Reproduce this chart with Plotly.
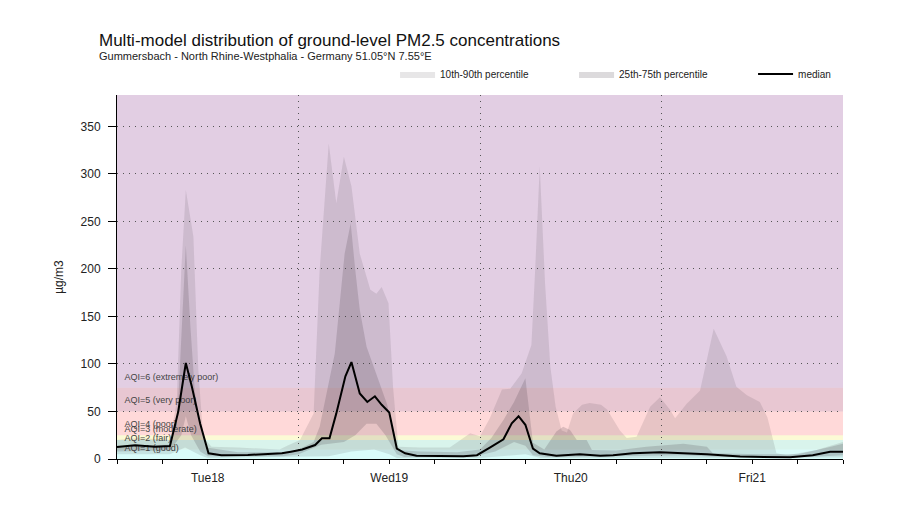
import plotly.graph_objects as go

# hours since Tue 18 00 UTC, values in µg/m3
median_h = [0, 2.4, 5, 7, 8.1, 9.1, 9.9, 11, 12.1, 13.8, 17.3, 20, 21.8, 23, 24.5, 26.2, 27.1, 28.1, 29, 30.2,
            31, 32.1, 33.1, 34.1, 35, 36, 37, 38.1, 39.6, 45.8, 47.6, 49.3, 51.1, 52.2, 53.1, 54, 55, 55.9, 58.1, 61.2,
            63.9, 65.6, 68.2, 71.8, 74.4, 78, 82.4, 86.8, 89, 92, 94.3, 96]
median_v = [12.5, 14.5, 13, 13.7, 50, 101, 76, 37, 6, 4, 4.2, 5, 6, 7.7, 10, 14.7, 21.8, 21.8, 48, 87,
            102, 69, 60, 66, 57, 49, 11, 6, 3.5, 3, 4, 12, 20.7, 37.5, 45, 36, 11, 6, 3.5, 5,
            3.5, 4, 6, 7, 6, 5, 2.5, 1.8, 1.8, 4, 7.7, 7.7]

p90_h = [0, 3, 7, 7.9, 8.5, 9.1, 10.1, 10.75, 11.4, 12.5, 16, 21.5, 22.5, 24.2, 26, 26.8, 28, 29, 30, 31,
         32.1, 33.5, 34.3, 35, 35.9, 36.5, 37.2, 40, 44, 45.4, 46.7, 48, 49.3, 50.9, 52, 53.5, 54.8, 55.3, 55.9, 56.6,
         57.3, 58, 58.8, 59.5, 60.3, 61.5, 62.5, 64, 64.8, 66.5, 67.4, 68.7, 70.5, 71.8, 73.1, 73.8, 75.3, 77.1, 78.9, 80.6,
         81.9, 83.3, 85, 86, 87.2, 88.6, 92.5, 96]
p90_v = [20, 22, 20, 60, 199, 283, 234, 94, 23, 13, 12, 10, 14, 20, 48, 199, 332, 269, 318, 287,
         216, 178, 174, 181, 164, 76, 13, 12, 12, 20, 27, 24, 43, 73, 74, 90, 120, 200, 308, 185,
         97, 55, 30, 28, 48, 57, 59, 57, 52, 30, 22, 23.5, 55, 65, 52, 43, 58, 72, 137, 108,
         76, 67, 60, 44, 6, 4, 9.5, 18]

p75_h = [0, 7, 8, 8.5, 9.1, 9.7, 10.3, 11, 11.8, 16, 22, 24, 26, 26.8, 28.8, 30.1, 30.9, 31.5, 32.1, 33,
         34.3, 35.7, 36.5, 37, 40, 45, 48, 49.5, 51.1, 52.5, 54, 55, 56.5, 58.1, 59, 59.9, 60.8, 62.1, 62.8, 66,
         70, 74.9, 78, 78.8, 85, 90, 94, 96]
p75_v = [14, 15, 45, 130, 225, 140, 70, 40, 12, 7, 7, 10, 18, 34, 111, 216, 248, 199, 157, 118,
         90, 58, 30, 9.5, 8, 7, 10, 22, 41, 60, 85, 17, 10, 29, 34, 30.5, 20, 20, 9.5, 9,
         13, 16, 13, 6, 5, 5, 12, 16]

p25_h = [0, 7, 8.5, 9.1, 9.8, 11, 12, 22, 24, 27, 30, 31.5, 33, 34.3, 35.5, 37, 38, 47, 50, 52.5,
         54, 55, 57, 70, 75, 80, 90, 96]
p25_v = [8, 9, 25, 45, 25, 8, 3, 3, 5, 15, 18, 25, 37, 37, 25, 5, 2, 2, 8, 18,
         14, 4, 2, 3, 4, 2, 1.5, 4]

p10_h = [0, 7, 9, 11, 12, 24, 28, 31, 34, 36, 37, 48, 52, 54, 56, 96]
p10_v = [5, 5, 12, 4, 1, 2, 3, 8, 10, 5, 1, 1, 4, 5, 1, 1.5]

# European AQI bands for PM2.5
aqi_lo = [0, 10, 20, 25, 50, 75]
aqi_hi = [10, 20, 25, 50, 75, 800]
aqi_names = ['AQI=1 (good)', 'AQI=2 (fair)', 'AQI=3 (moderate)', 'AQI=4 (poor)',
             'AQI=5 (very poor)', 'AQI=6 (extremely poor)']
aqi_rgb = ['80,240,230', '80,204,170', '240,230,65', '255,80,80', '150,0,50', '125,33,129']

days = ['Tue18', 'Wed19', 'Thu20', 'Fri21']

# -----------------------------------------------------------------------------------------------------------------------------------------
fig = go.Figure()

# band labels first, so the percentile shading sits on top of them
fig.add_trace(go.Scatter(
    x=[1] * len(aqi_lo), y=[lo + 11 for lo in aqi_lo], text=aqi_names,
    mode='text', textposition='middle right',
    textfont=dict(size=9, color='#444'), showlegend=False, hoverinfo='skip'))

band = 'rgba(60,50,60,0.12)'
core = 'rgba(60,50,60,0.18)'
fig.add_trace(go.Scatter(x=p10_h, y=p10_v, mode='lines', line_width=0, showlegend=False, hoverinfo='skip'))
fig.add_trace(go.Scatter(x=p90_h, y=p90_v, mode='lines', line_width=0, fill='tonexty', fillcolor=band,
                         name='10th-90th percentile'))
fig.add_trace(go.Scatter(x=p25_h, y=p25_v, mode='lines', line_width=0, showlegend=False, hoverinfo='skip'))
fig.add_trace(go.Scatter(x=p75_h, y=p75_v, mode='lines', line_width=0, fill='tonexty', fillcolor=core,
                         name='25th-75th percentile'))
fig.add_trace(go.Scatter(x=median_h, y=median_v, mode='lines', line=dict(color='black', width=2), name='median'))
# empty trace to carry the midnight grid axis
fig.add_trace(go.Scatter(x=[], y=[], xaxis='x2', showlegend=False, hoverinfo='skip'))

for lo, hi, rgb in zip(aqi_lo, aqi_hi, aqi_rgb):
    fig.add_shape(type='rect', xref='paper', x0=0, x1=1, yref='y', y0=lo, y1=hi,
                  fillcolor='rgba(%s,0.22)' % rgb, line_width=0, layer='below')

tick_h = list(range(0, 97, 6))
tick_txt = [days[h // 24] if h % 24 == 12 and h < 96 else '' for h in tick_h]

# page body adds 8px offset, margins compensate
fig.update_layout(
    width=900, height=526,
    margin=dict(l=109, r=65, t=87, b=75, autoexpand=False),
    paper_bgcolor='white', plot_bgcolor='white',
    font=dict(family='Liberation Sans, Arial, sans-serif', size=11, color='#222'),
    showlegend=True,
    legend=dict(orientation='h', x=0.383, y=1.058, xanchor='left', yanchor='middle',
                font=dict(size=10), bgcolor='rgba(0,0,0,0)', traceorder='normal',
                entrywidth=129, entrywidthmode='pixels', itemwidth=35),
    xaxis=dict(range=[0, 96], tickmode='array', tickvals=tick_h, ticktext=tick_txt,
               ticks='outside', ticklen=4, tickcolor='black', showgrid=False, zeroline=False,
               showline=True, linecolor='black', tickfont=dict(size=12), ticklabelstandoff=4),
    xaxis2=dict(range=[0, 96], overlaying='x', tickvals=[0, 24, 48, 72, 96], showticklabels=False,
                ticks='', showgrid=True, griddash='1px,5px', gridcolor='#555', zeroline=False, showline=False),
    yaxis=dict(range=[0, 383], tickvals=[0, 50, 100, 150, 200, 250, 300, 350],
               ticks='outside', ticklen=8, tickcolor='black', showline=True, linecolor='black',
               showgrid=True, griddash='1px,5px', gridcolor='#555', zeroline=False,
               tickfont=dict(size=12), ticklabelstandoff=5,
               title=dict(text='µg/m3', standoff=14, font=dict(size=12))),
)

fig.add_annotation(text='Multi-model distribution of ground-level PM2.5 concentrations',
                   xref='paper', yref='paper', x=-0.0275, y=1.151, xanchor='left', yanchor='middle',
                   showarrow=False, font=dict(size=17, color='#111'))
fig.add_annotation(text='Gummersbach - North Rhine-Westphalia - Germany 51.05°N 7.55°E',
                   xref='paper', yref='paper', x=-0.0275, y=1.107, xanchor='left', yanchor='middle',
                   showarrow=False, font=dict(size=11, color='#222'))

fig.write_html('out.html')
